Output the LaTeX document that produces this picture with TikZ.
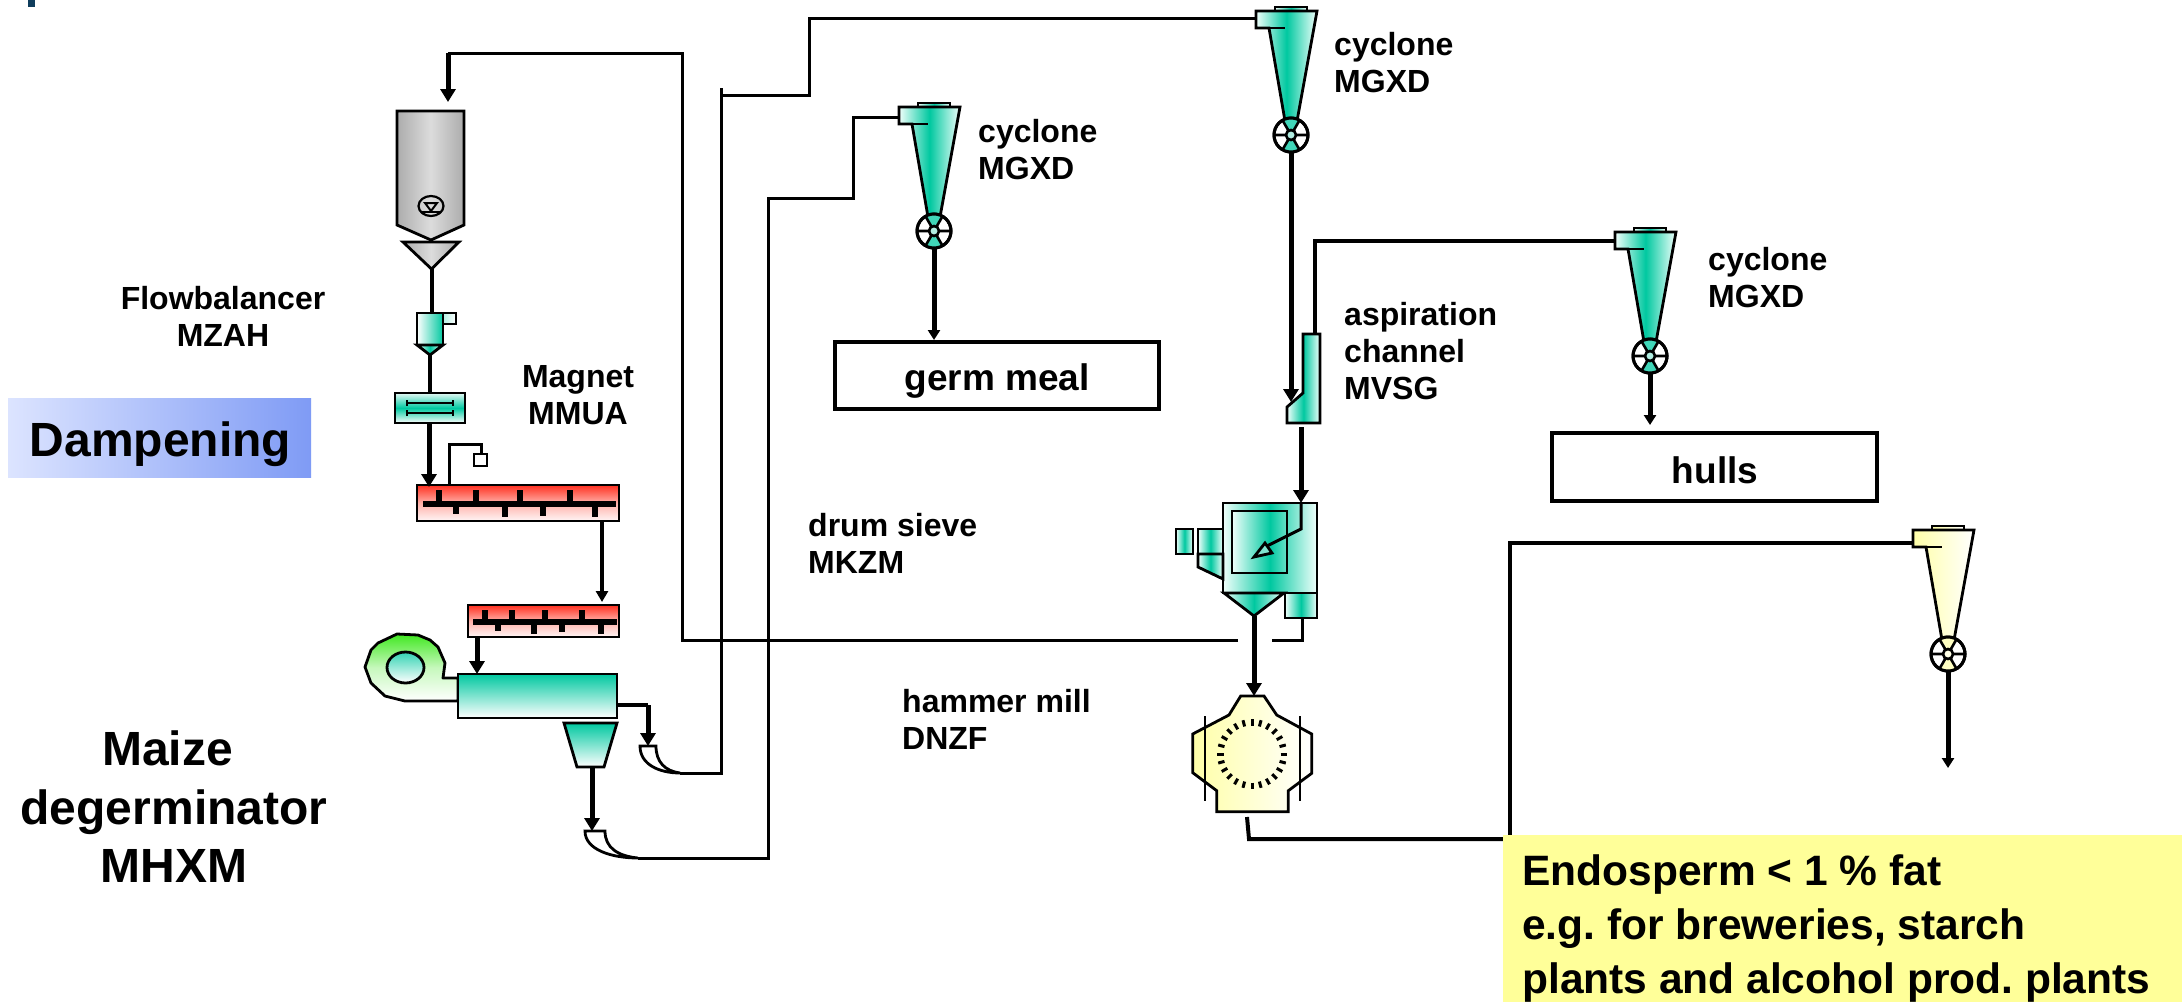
\documentclass[tikz,border=0pt]{standalone}
\usepackage{fontspec}
\setmainfont{Liberation Sans}
\usetikzlibrary{arrows.meta,shapes.geometric,calc}
\definecolor{teal1}{HTML}{00C8A0}
\definecolor{tealpale}{HTML}{F0FFFB}
\definecolor{redtop}{HTML}{FF3020}
\definecolor{redmid}{HTML}{FFB0A8}
\definecolor{redlow}{HTML}{FFF6F6}
\definecolor{yel}{HTML}{FFFF99}
\definecolor{yelside}{HTML}{FFFFA8}
\definecolor{graymid}{HTML}{DCDCDC}
\definecolor{grayedge}{HTML}{ACACAC}
\definecolor{navy1}{HTML}{0F3D5C}
\definecolor{fan1}{HTML}{40E820}
\definecolor{dampL}{HTML}{DCE4FF}
\definecolor{dampR}{HTML}{7F9BF5}
\colorlet{wheelT}{teal1!75}
\colorlet{wheelY}{yelside!70}
\tikzset{
  eq/.style={draw=black,line width=2.8pt,line join=miter},
  tealH/.style={eq,left color=tealpale,right color=tealpale,middle color=teal1},
  tealV/.style={eq,top color=teal1,bottom color=white},
  grayH/.style={eq,left color=grayedge,right color=grayedge,middle color=graymid},
  redV/.style={eq,top color=redtop,bottom color=redlow,middle color=redmid},
  yelH/.style={eq,left color=yelside,right color=white},
  thinline/.style={draw=black,line width=3pt,line join=miter},
  feed/.style={draw=black,line width=4pt,line join=miter},
  heavy/.style={draw=black,line width=5pt,-{Triangle[length=13pt,width=15pt]}},
  heavysmall/.style={draw=black,line width=4pt,-{Triangle[length=11pt,width=12pt]}},
  stem/.style={draw=black,line width=5pt,-{Triangle[length=10pt,width=12pt]}},
  tick/.style={draw=black,line width=6pt},
  barline/.style={draw=black,line width=5.5pt},
  lab/.style={font=\fontsize{32}{37}\selectfont\bfseries,inner sep=0pt},
  bigl/.style={font=\fontsize{48}{58.5}\selectfont\bfseries,inner sep=0pt},
  prodbox/.style={draw=black,line width=4pt,fill=white,inner sep=0pt},
  prodtext/.style={font=\fontsize{37}{44}\selectfont\bfseries,inner sep=0pt},
}
\newcommand{\cycl}[5]{% name, x, y, style, wheel colour
  \coordinate (#1) at (#2,#3);
  \coordinate (#1out) at (#2,#3+18);
  \begin{scope}[shift={(#2,#3)}]
    \path[#4] (-16,-128) rectangle (16,-124);
    \path[#4] (-35,-124) -- (26,-124) -- (6,-14) -- (-6,-14) -- (-22,-107) -- (-35,-107) -- cycle;
    \draw[line width=2.8pt] (-22,-107) -- (-6,-107);
    \draw[line width=3pt,fill=white] (0,0) circle (17);
    \fill[#5] (60:5) -- (60:17) arc (60:120:17) -- (120:5) -- cycle;
    \fill[#5] (-60:5) -- (-60:17) arc (-60:-120:17) -- (-120:5) -- cycle;
    \draw[line width=2.6pt] (-17,0) -- (-5,0) (5,0) -- (17,0)
      (60:5) -- (60:17) (120:5) -- (120:17) (-60:5) -- (-60:17) (-120:5) -- (-120:17);
    \draw[line width=3pt] (0,0) circle (17);
    \draw[line width=2.6pt,fill=#5!40] (0,0) circle (5);
  \end{scope}
}
\begin{document}
\frenchspacing
\begin{tikzpicture}[x=1pt,y=-1pt]
\useasboundingbox (0,0) rectangle (2182,1002);
\fill[white] (0,0) rectangle (2182,1002);
\fill[navy1] (28,0) rectangle (35,7);

% reference points of the equipment
\coordinate (feedA) at (448,53);
\coordinate (feedB) at (682,53);
\coordinate (feedC) at (682,640);
\coordinate (feedD) at (1238,640);
\coordinate (feedE) at (1272,640);
\coordinate (feedF) at (1302,640);
\coordinate (feedG) at (1302,618);
\coordinate (siloIn) at (448,102);
\coordinate (upA) at (680,773);
\coordinate (upB) at (721,773);
\coordinate (upT) at (721,88);
\coordinate (upC) at (721,95);
\coordinate (upD) at (809,95);
\coordinate (upE) at (809,18);
\coordinate (cyBinlet) at (1256,18);
\coordinate (loA) at (638,858);
\coordinate (loB) at (768,858);
\coordinate (loC) at (768,198);
\coordinate (loD) at (853,198);
\coordinate (loE) at (853,117);
\coordinate (cyAinlet) at (899,117);
\coordinate (asA) at (1315,334);
\coordinate (asB) at (1315,241);
\coordinate (cyCinlet) at (1615,241);
\coordinate (millA) at (1247,817);
\coordinate (millB) at (1249,839);
\coordinate (millC) at (1510,839);
\coordinate (millD) at (1510,543);
\coordinate (cyDinlet) at (1913,543);

% process lines
\draw[thinline] (feedD) -- (feedC) -- (feedB) -- (feedA);
\draw[heavy] (feedA) -- (siloIn);
\draw[thinline] (feedE) -- (feedF) -- (feedG);
\draw[thinline] (upA) -- (upB) -- (upT);
\draw[thinline] (upC) -- (upD) -- (upE) -- (cyBinlet);
\draw[thinline] (loA) -- (loB) -- (loC) -- (loD) -- (loE) -- (cyAinlet);
\draw[feed] (asA) -- (asB) -- (cyCinlet);
\draw[feed] (millC) -- (millD) -- (cyDinlet);

% cyclones
\cycl{cyA}{934}{231}{tealH}{wheelT}
\cycl{cyB}{1291}{135}{tealH}{wheelT}
\cycl{cyC}{1650}{356}{tealH}{wheelT}
\cycl{cyD}{1948}{654}{yelH}{wheelY}

% silo and funnel
\coordinate (silo) at (431,206);
\path[grayH] (397,111) -- (464,111) -- (464,225) -- (431,240) -- (397,225) -- cycle;
\draw[line width=2.2pt] (silo) ellipse (12.5 and 10);
\draw[line width=2pt] (425,203) -- (437,203) -- (431,211) -- cycle;
\draw[line width=2pt] (421,212) -- (441,212);
\path[grayH] (403,242) -- (459,242) -- (431.5,269) -- cycle;

% flowbalancer
\coordinate (funnelOut) at (431.5,269);
\coordinate (fbTop) at (431.5,313);
\coordinate (fbOut) at (430,355);
\coordinate (magTop) at (430,393);
\draw[feed] (funnelOut) -- (fbTop);
\draw[feed] (fbOut) -- (magTop);
\path[eq,left color=white,right color=teal1] (417,313) rectangle (443,345);
\path[tealH] (417,345) -- (443,345) -- (430,355) -- cycle;
\path[eq,left color=teal1!30,right color=white] (443,313) rectangle (456,324);

% magnet
\path[eq,top color=teal1!10,bottom color=white,middle color=teal1] (395,393) rectangle (465,423);
\draw[line width=2.5pt] (407,403) -- (453,403) (407,413) -- (453,413)
  (407,400) -- (407,406) (453,400) -- (453,406) (407,410) -- (407,416) (453,410) -- (453,416);

% small sensor
\coordinate (senA) at (449,485);
\coordinate (senB) at (449,444);
\coordinate (senC) at (481,444);
\coordinate (senD) at (481,454);
\draw[thinline] (senA) -- (senB) -- (senC) -- (senD);
\draw[eq,fill=white] (474,454) rectangle (487,466);

% conveyor 1
\path[redV] (417,485) rectangle (619,521);
\draw[barline] (423,504) -- (616,504);
\foreach \t in {439,476,520,570} \draw[tick] (\t,490) -- (\t,504);
\foreach \t/\e in {456/514,505/517,543/516,595/517} \draw[tick] (\t,504) -- (\t,\e);

% conveyor 2
\path[redV] (468,605) rectangle (619,637);
\draw[barline] (473,622) -- (617,622);
\foreach \t in {485,512,545,582} \draw[tick] (\t,610) -- (\t,622);
\foreach \t/\e in {498/631,534/634,562/632,601/634} \draw[tick] (\t,622) -- (\t,\e);

% fan
\path[eq,top color=fan1,bottom color=white,middle color=fan1!30,line join=round]
  (458,678) -- (443,678) -- (445,663) -- (438,647) -- (430,640) -- (418,635) -- (397,634) -- (378,643) -- (371,650) -- (365,667) -- (371,683) -- (385,696) -- (405,701) -- (458,701) -- cycle;
\path[eq,top color=teal1!80,bottom color=white] (405.5,667.5) ellipse (18.5 and 15.5);

% degerminator
\path[tealV] (458,674) rectangle (617,718);

% trapezoid
\path[tealV] (564,723) -- (617,723) -- (604,767) -- (577,767) -- cycle;

% scoops
\coordinate (sc1) at (648,746);
\coordinate (sc2) at (592,831);
\draw[eq,fill=white] (640,746) -- (656,746) .. controls (656,762) and (665,771) .. (680,773)
  .. controls (660,773) and (640,765) .. (640,746) -- cycle;
\draw[eq,fill=white] (585,831) -- (605,831) .. controls (605,848) and (618,856) .. (638,858)
  .. controls (612,858) and (585,850) .. (585,831) -- cycle;

% outlet arrows
\coordinate (degOut) at (617,705);
\coordinate (degCorner) at (648,705);
\coordinate (trapOut) at (592,767);
\coordinate (magOut) at (429,423);
\coordinate (conA) at (429,487);
\coordinate (c1Out) at (602,521);
\coordinate (c2In) at (602,602);
\coordinate (c2Out) at (477,637);
\coordinate (degIn) at (477,674);
\draw[feed] (degOut) -- (degCorner);
\draw[heavy] (degCorner) -- (sc1);
\draw[heavy] (trapOut) -- (sc2);
\draw[heavy] (magOut) -- (conA);
\draw[heavysmall] (c1Out) -- (c2In);
\draw[heavy] (c2Out) -- (degIn);

% aspiration channel
\path[tealH] (1303,334) -- (1320,334) -- (1320,423) -- (1287,423) -- (1287,407) -- (1303,393) -- cycle;
\coordinate (asIn) at (1291,402);
\coordinate (asOut) at (1301,427);
\coordinate (sieveIn) at (1301,503);

% drum sieve
\path[tealH] (1223,503) rectangle (1317,593);
\begin{scope}
  \clip (1232,511) rectangle (1287,573);
  \fill[left color=tealpale,right color=tealpale,middle color=teal1] (1232,505) rectangle (1308,580);
\end{scope}
\draw[eq] (1232,511) rectangle (1287,573);
\path[tealH] (1224,593) -- (1284,593) -- (1254,616) -- cycle;
\path[tealH] (1285,593) rectangle (1317,618);
\path[tealH] (1198,529) rectangle (1223,554);
\path[tealH] (1198,554) -- (1223,554) -- (1223,579) -- (1198,567) -- cycle;
\path[tealH] (1176,529) rectangle (1193,554);
\coordinate (sieveBend) at (1301,529);
\coordinate (sieveTip) at (1263,548);
\draw[thinline] (sieveIn) -- (sieveBend) -- (sieveTip);
\draw[line width=2.8pt,line join=miter,fill=teal1!50] (1254,557) -- (1265,543) -- (1272,553) -- cycle;

% hammer mill
\coordinate (millC0) at (1252,754);
\path[yelH] (1240.7,696) -- (1264,696) -- (1276.7,715) -- (1311.7,734) -- (1311.7,773.3) -- (1288.3,790.7) -- (1288.3,811.7) -- (1216.7,811.7) -- (1216.7,790.7) -- (1192.7,772.7) -- (1192.7,734) -- (1229,715) -- cycle;
\draw[line width=2.5pt] (1205,716) -- (1205,801) (1300,716) -- (1300,801);
\foreach \a in {0,15,...,345} \draw[line width=3pt] ($(millC0)+(\a:28.5)$) -- ($(millC0)+(\a:35)$);

% connectors to products
\coordinate (sieveOut) at (1254,616);
\coordinate (millIn) at (1254,696);
\coordinate (hullsIn) at (1650,425);
\draw[heavy] (sieveOut) -- (millIn);
\draw[heavy] (asOut) -- (sieveIn);
\draw[heavy] (cyBout) -- (asIn);
\node[prodbox,minimum width=324pt,minimum height=67pt] (germ) at (997,375.5) {};
\node[prodtext] (germt) at (997,381) {germ meal};
\node[prodbox,minimum width=325pt,minimum height=68pt] (hulls) at (1714.5,467) {};
\node[prodtext] (hullst) at (1715,470) {hulls};
\draw[stem] (cyAout) -- (germ.north -| cyAout);
\draw[stem] (cyCout) -- (hullsIn);
\coordinate (cyDend) at (1948,768);
\draw[stem] (cyDout) -- (cyDend);

% endosperm
\draw[feed] (millA) -- (millB) -- (millC);
\node[fill=yel,minimum width=679pt,minimum height=167pt,inner sep=0pt,anchor=north west] (endo) at (1503,835) {};
\node[font=\fontsize{42.5}{54}\selectfont\bfseries,inner sep=0pt,anchor=west,align=left] (endotxt) at (1522,928)
  {Endosperm < 1 \% fat\\e.g. for breweries, starch\\plants and alcohol prod. plants};

% dampening
\node[minimum width=303pt,minimum height=79pt,inner sep=0pt,left color=dampL,right color=dampR] (dampbox) at (159.5,437.5) {};
\node[bigl] (damp) at (160.5,444.5) {Dampening};

% labels
\node[lab,align=center] (l1) at (223,316) {Flowbalancer\\MZAH};
\node[lab,align=center] (l2) at (578,395) {Magnet\\MMUA};
\node[lab,align=left,anchor=west] (l3) at (978,150) {cyclone\\MGXD};
\node[lab,align=left,anchor=west] (l4) at (1334,63) {cyclone\\MGXD};
\node[lab,align=left,anchor=west] (l5) at (1708,278) {cyclone\\MGXD};
\node[lab,align=left,anchor=west] (l6) at (1344,351) {aspiration\\channel\\MVSG};
\node[lab,align=left,anchor=west] (l7) at (808,543) {drum sieve\\MKZM};
\node[lab,align=left,anchor=west] (l8) at (902,719) {hammer mill\\DNZF};
\node[bigl,align=center] (l9) at (174,807) {Maize\rule{13pt}{0pt}\\degerminator\\MHXM};
\end{tikzpicture}
\end{document}
